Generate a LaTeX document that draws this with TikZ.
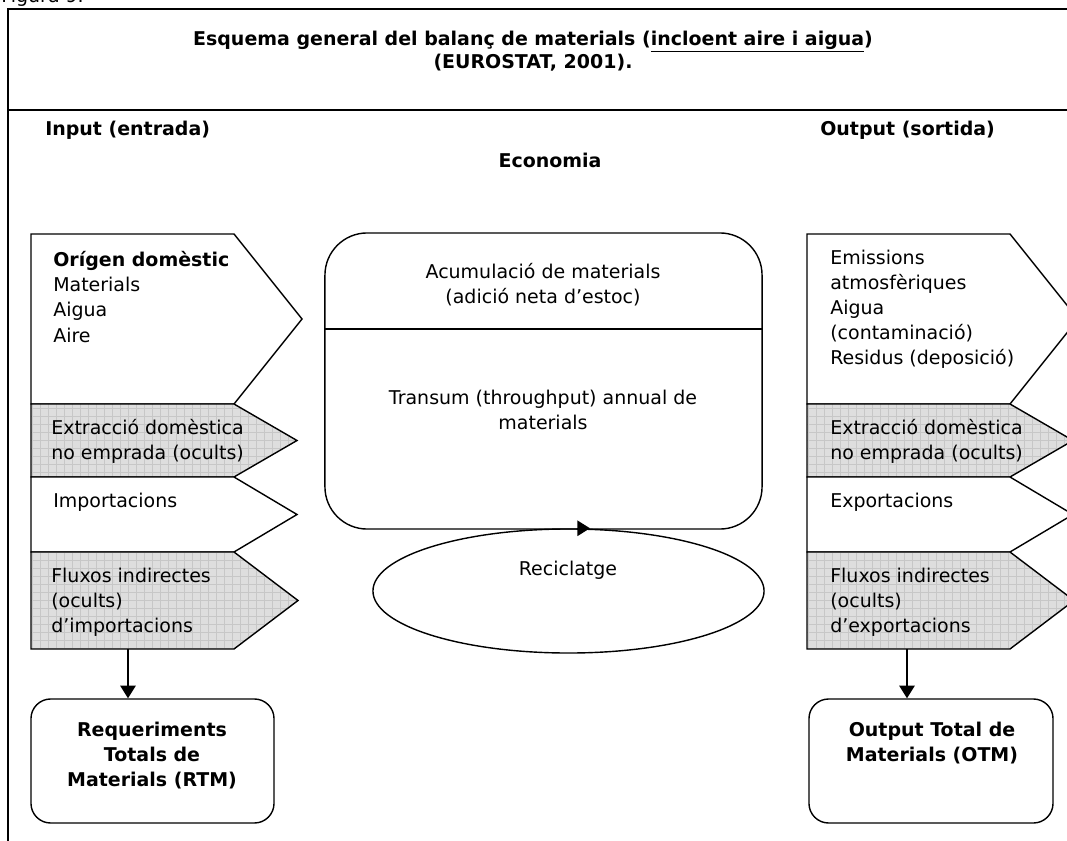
\documentclass[tikz,border=0pt]{standalone}
\usepackage{fontspec}
\setmainfont{DejaVu Sans}
\usetikzlibrary{arrows.meta, shapes.geometric, positioning, calc}

\newcommand{\diafont}{\fontsize{13.5}{17.8}\selectfont}
\newcommand{\headfont}{\fontsize{13.5}{16.4}\selectfont\bfseries}

\tikzset{
  flowline/.style={draw=black, line width=1pt, line join=miter},
  plainflow/.style={flowline, fill=white},
  hiddenflow/.style={flowline, fill=black!13,
    path picture={\draw[black!22, line width=0.3pt, step=0.2cm]
      (path picture bounding box.south west) grid (path picture bounding box.north east);}},
  flowtext/.style={anchor=west, align=left, inner sep=0pt, font=\diafont},
  boxtext/.style={align=center, inner sep=0pt, font=\diafont},
  headtext/.style={inner sep=0pt, font=\headfont},
  totalbox/.style={draw, line width=1pt, rounded corners=14pt, minimum height=3.1cm, inner sep=0pt},
}

\begin{document}
\begin{tikzpicture}[x=0.025cm, y=-0.025cm, >={Triangle[length=9pt, width=11pt]}]
  \useasboundingbox (0,0) rectangle (1067,841);
  \clip (0,0) rectangle (1067,841);

  % Frame and heading
  \node[anchor=base west, inner sep=0pt, font=\diafont] (figure) at (1,3) {Figura 9.};
  \draw[line width=1pt] (8,900) -- (8,9) -- (1100,9);
  \draw[line width=1pt] (8,110) -- (1100,110);
  \node[headtext, align=center] (title) at (533,51)
    {Esquema general del balanç de materials (\underline{incloent aire i aigua})\\(EUROSTAT, 2001).};
  \node[headtext, anchor=west] (input) at (45,130) {Input (entrada)};
  \node[headtext] (economy) at (550,160) {Economia};
  \node[headtext, anchor=west] (output) at (820,130) {Output (sortida)};

  % Flow shapes, the same in both columns
  \foreach \dx in {0,776}
    \foreach \ya/\yb/\xt/\kind in {234/404/302/plainflow, 404/477/297/hiddenflow,
                                   477/552/297/plainflow, 552/649/298/hiddenflow}
      \path[\kind] (31+\dx,\ya) -- (234+\dx,\ya) -- (\xt+\dx,{(\ya+\yb)/2})
        -- (234+\dx,\yb) -- (31+\dx,\yb) -- cycle;

  % Input texts
  \node[flowtext] (domestic) at (53,297) {\textbf{Orígen domèstic}\\Materials\\Aigua\\Aire};
  \node[flowtext] (extrin) at (51,441) {Extracció domèstica\\no emprada (ocults)};
  \node[flowtext] (imports) at (53,502) {Importacions};
  \node[flowtext] (indin) at (51,602) {Fluxos indirectes\\(ocults)\\d’importacions};

  % Output texts
  \node[flowtext] (emissions) at (830,309) {Emissions\\atmosfèriques\\Aigua\\(contaminació)\\Residus (deposició)};
  \node[flowtext] (extrout) at (830,441) {Extracció domèstica\\no emprada (ocults)};
  \node[flowtext] (exports) at (830,502) {Exportacions};
  \node[flowtext] (indout) at (830,602) {Fluxos indirectes\\(ocults)\\d’exportacions};

  % Economy box and recycling
  \node[draw, line width=1pt, rounded corners=30pt, minimum width=10.925cm, minimum height=7.4cm] (econbox) at (543.5,381) {};
  \draw[line width=1pt] (econbox.west |- 0,329) -- (econbox.east |- 0,329);
  \node[boxtext] (stock) at (543,285) {Acumulació de materials\\(adició neta d’estoc)};
  \node[boxtext] (throughput) at (543,410) {Transum (throughput) annual de\\materials};
  \node[ellipse, draw, line width=1pt, minimum width=9.775cm, minimum height=3.1cm] (recycle) at (568.5,591) {};
  \node[boxtext] (recyctext) at (568,570) {Reciclatge};
  \draw[->, line width=1pt] ($(recycle.north)+(8,0)$) -- ($(recycle.north)+(21.5,0)$);

  % Totals
  \node[totalbox, minimum width=6.075cm] (rtm) at (152.5,761) {};
  \node[totalbox, minimum width=6.1cm] (otm) at (931,761) {};
  \node[boxtext, font=\diafont\bfseries] (rtmtext) at (152,756) {Requeriments\\Totals de\\Materials (RTM)};
  \node[boxtext, font=\diafont\bfseries] (otmtext) at (932,743) {Output Total de\\Materials (OTM)};
  \coordinate (indinfoot) at (128,649);
  \coordinate (indoutfoot) at (907,649);
  \draw[->, line width=1pt] (indinfoot) -- (indinfoot |- rtm.north);
  \draw[->, line width=1pt] (indoutfoot) -- (indoutfoot |- otm.north);

\end{tikzpicture}
\end{document}
